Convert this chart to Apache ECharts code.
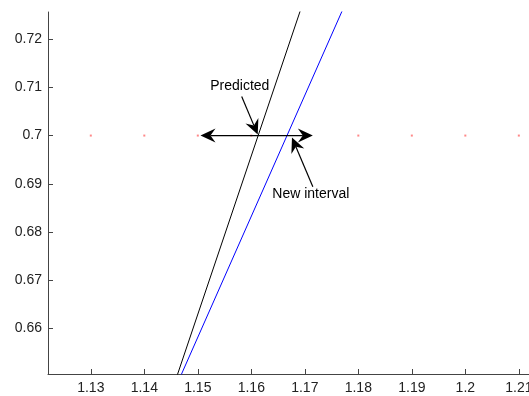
<!DOCTYPE html>
<html>
<head>
<meta charset="utf-8">
<script src="https://cdn.jsdelivr.net/npm/echarts@6/dist/echarts.min.js"></script>
<style>
  html, body { margin: 0; padding: 0; background: #fff; }
  #chart { width: 529px; height: 396px; }
</style>
</head>
<body>
<div id="chart"></div>
<script>
// Axis ranges and ticks
const xRange = [1.122, 1.2119];
const yRange = [0.6506, 0.7256];
const xTicks = [1.13, 1.14, 1.15, 1.16, 1.17, 1.18, 1.19, 1.2, 1.21];
const yTicks = [0.66, 0.67, 0.68, 0.69, 0.7, 0.71, 0.72];

// Two straight lines, each given by two points (x, y)
const predictedLine = [[1.14605, 0.65], [1.17041, 0.73]];
const intervalLine = [[1.14672, 0.65], [1.17864, 0.73]];

// Target level, marked with dots
const levelX = [1.13, 1.14, 1.15, 1.16, 1.17, 1.18, 1.19, 1.2, 1.21];
const levelY = 0.7;

// Annotation arrows: [tailX, tailY, headX, headY, doubleHeaded]
const arrows = [
  [1.1505, 0.70, 1.1715, 0.70, 1],
  [1.1582, 0.7081, 1.1612, 0.7002, 0],
  [1.1715, 0.6894, 1.1676, 0.6996, 0]
];
// Annotation texts: [x, y, text]
const notes = [
  [1.15785, 0.71016, 'Predicted'],
  [1.17112, 0.68777, 'New interval']
];

const FONT = '"Liberation Sans", Arial, sans-serif';

function head(tip, from) {
  const dx = tip[0] - from[0], dy = tip[1] - from[1];
  const len = Math.sqrt(dx * dx + dy * dy) || 1;
  const ux = dx / len, uy = dy / len;
  const nx = -uy, ny = ux;
  const L = 15, W = 7, N = 10;
  return {
    points: [
      [tip[0], tip[1]],
      [tip[0] - L * ux + W * nx, tip[1] - L * uy + W * ny],
      [tip[0] - N * ux, tip[1] - N * uy],
      [tip[0] - L * ux - W * nx, tip[1] - L * uy - W * ny]
    ],
    back: [tip[0] - N * ux, tip[1] - N * uy]
  };
}

const chart = echarts.init(document.getElementById('chart'), null, { renderer: 'canvas' });

const option = {
  backgroundColor: '#fff',
  animation: false,
  grid: { left: 48, top: 12, right: 0, height: 362, containLabel: false, outerBoundsMode: 'none' },
  xAxis: {
    type: 'value',
    min: xRange[0], max: xRange[1],
    axisLine: { show: true, lineStyle: { color: '#444', width: 1 } },
    axisTick: { show: true, inside: true, length: 5, customValues: xTicks, lineStyle: { color: '#444' } },
    axisLabel: {
      customValues: xTicks, margin: 7, color: '#222', fontFamily: FONT, fontSize: 14,
      hideOverlap: false, showMaxLabel: true,
      formatter: v => String(parseFloat(v.toFixed(2)))
    },
    splitLine: { show: false }
  },
  yAxis: {
    type: 'value',
    min: yRange[0], max: yRange[1],
    axisLine: { show: true, lineStyle: { color: '#444', width: 1 } },
    axisTick: { show: true, inside: true, length: 5, customValues: yTicks, lineStyle: { color: '#444' } },
    axisLabel: {
      customValues: yTicks, margin: 6, color: '#222', fontFamily: FONT, fontSize: 14,
      formatter: v => String(parseFloat(v.toFixed(2)))
    },
    splitLine: { show: false }
  },
  series: [
    {
      type: 'scatter',
      data: levelX.map(x => [x, levelY]),
      symbol: 'rect', symbolSize: 2,
      itemStyle: { color: '#ff6a6a' },
      silent: true, z: 1
    },
    {
      type: 'line',
      data: predictedLine,
      showSymbol: false, clip: true,
      lineStyle: { color: '#000', width: 1 },
      z: 2
    },
    {
      type: 'line',
      data: intervalLine,
      showSymbol: false, clip: true,
      lineStyle: { color: '#0000ff', width: 1 },
      z: 2
    },
    {
      type: 'custom',
      data: arrows,
      encode: { x: [0, 2], y: [1, 3] },
      z: 5,
      renderItem: function (params, api) {
        const tail = api.coord([api.value(0), api.value(1)]);
        const tip = api.coord([api.value(2), api.value(3)]);
        const dbl = api.value(4) === 1;
        const h1 = head(tip, tail);
        const children = [];
        let start = tail;
        if (dbl) {
          const h0 = head(tail, tip);
          start = h0.back;
          children.push({ type: 'polygon', shape: { points: h0.points }, style: { fill: '#000' } });
        }
        children.push({
          type: 'line',
          shape: { x1: start[0], y1: start[1], x2: h1.back[0], y2: h1.back[1] },
          style: { stroke: '#000', lineWidth: 1.2 }
        });
        children.push({ type: 'polygon', shape: { points: h1.points }, style: { fill: '#000' } });
        return { type: 'group', children: children };
      }
    },
    {
      type: 'custom',
      data: notes,
      encode: { x: 0, y: 1 },
      z: 6,
      renderItem: function (params, api) {
        const p = api.coord([api.value(0), api.value(1)]);
        return {
          type: 'text',
          x: p[0], y: p[1],
          style: {
            text: notes[params.dataIndex][2],
            fill: '#000', font: '14px ' + FONT,
            align: 'center', verticalAlign: 'middle'
          }
        };
      }
    }
  ]
};

chart.setOption(option);
</script>
</body>
</html>
